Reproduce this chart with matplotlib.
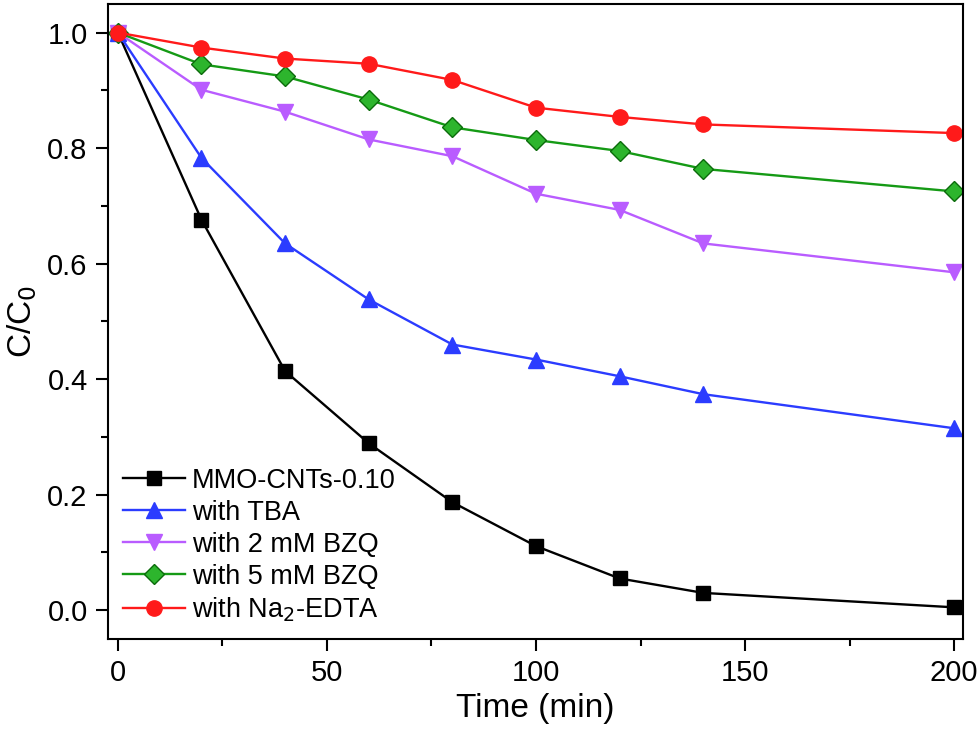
import matplotlib
matplotlib.use("Agg")
import matplotlib.pyplot as plt
from matplotlib.ticker import MultipleLocator

plt.rcParams['font.family'] = ['Liberation Sans', 'DejaVu Sans']

# time points (min)
time = [0, 20, 40, 60, 80, 100, 120, 140, 200]

# C/C0 for each scavenger experiment
mmo_cnts = [1.0, 0.676, 0.414, 0.289, 0.187, 0.111, 0.055, 0.030, 0.005]
tba = [1.0, 0.783, 0.635, 0.538, 0.460, 0.434, 0.405, 0.374, 0.315]
bzq_2mm = [1.0, 0.901, 0.863, 0.815, 0.786, 0.721, 0.693, 0.635, 0.585]
bzq_5mm = [1.0, 0.945, 0.924, 0.884, 0.836, 0.814, 0.795, 0.764, 0.725]
na2_edta = [1.0, 0.974, 0.955, 0.946, 0.918, 0.870, 0.854, 0.841, 0.826]

labels = ["MMO-CNTs-0.10", "with TBA", "with 2 mM BZQ", "with 5 mM BZQ",
          "with Na$_2$-EDTA"]

fig = plt.figure(figsize=(9.8, 7.38), dpi=100)
ax = fig.add_axes([0.110, 0.134, 0.873, 0.861])

ax.plot(time, mmo_cnts, color='black', marker='s', ms=9.5, lw=1.7,
        mfc='black', mec='black', label=labels[0])
ax.plot(time, tba, color='#2b3cff', marker='^', ms=11, lw=1.7,
        mfc='#2b3cff', mec='#2b3cff', label=labels[1])
ax.plot(time, bzq_2mm, color='#b95cff', marker='v', ms=11, lw=1.7,
        mfc='#b95cff', mec='#b95cff', label=labels[2])
ax.plot(time, bzq_5mm, color='#159a15', marker='D', ms=10, lw=1.7,
        mfc='#2db52d', mec='#0b6b0b', label=labels[3])
ax.plot(time, na2_edta, color='#ff1a1a', marker='o', ms=11, lw=1.7,
        mfc='#ff1a1a', mec='#ff1a1a', label=labels[4])

ax.set_xlim(-2.4, 202.2)
ax.set_ylim(-0.05, 1.05)
ax.xaxis.set_major_locator(MultipleLocator(50))
ax.xaxis.set_minor_locator(MultipleLocator(25))
ax.yaxis.set_major_locator(MultipleLocator(0.2))
ax.yaxis.set_minor_locator(MultipleLocator(0.1))
ax.tick_params(which='major', direction='out', length=8.5, width=1.5,
               labelsize=21, pad=6)
ax.tick_params(which='minor', direction='out', length=5, width=1.5)
for s in ax.spines.values():
    s.set_linewidth(1.5)

ax.set_xlabel("Time (min)", fontsize=24, labelpad=4)
ax.set_ylabel("C/C$_0$", fontsize=24, labelpad=6)

ax.legend(loc='lower left', frameon=False, fontsize=19.5, handlelength=2.3,
          handletextpad=0.25, labelspacing=0.22, borderaxespad=0.25,
          borderpad=0.3)

fig.savefig("out.png", dpi=100)
